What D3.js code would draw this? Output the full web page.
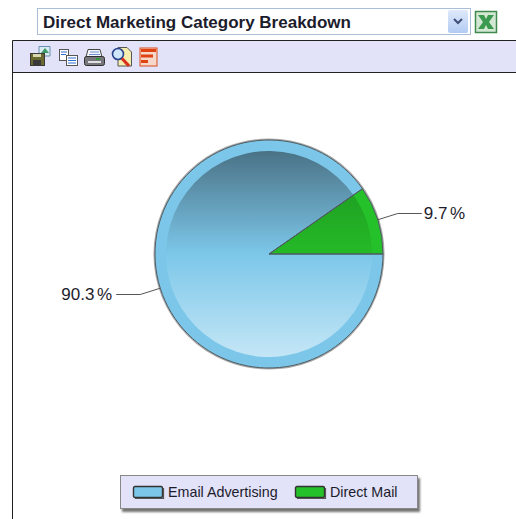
<!DOCTYPE html>
<html lang="en">
<head>
<meta charset="UTF-8">
<title>Direct Marketing Category Breakdown</title>
<style>
  html, body { margin: 0; padding: 0; background: #fff; }
  svg { display: block; }
  text { font-family: "Liberation Sans", Arial, sans-serif; fill: #1c1c2c; }
</style>
</head>
<body>
<svg id="chart" width="516" height="519"></svg>
<script src="https://cdnjs.cloudflare.com/ajax/libs/d3/7.2.0/d3.min.js"></script>
<script>
var title = 'Direct Marketing Category Breakdown';
var categories = ['Email Advertising', 'Direct Mail'];
var shares = [90.3, 9.7];
var shareLabels = ['90.3 %', '9.7 %'];
var ringColors = ['#7cc7e9', '#25c12b'];

var svg = d3.select('#chart');
var defs = svg.append('defs');

var cx = 269, cy = 254, radius = 114, innerRadius = 103;

// gradients for the inner "glass" part of the pie
function gradient(id, stops) {
    var g = defs.append('linearGradient')
        .attr('id', id)
        .attr('gradientUnits', 'userSpaceOnUse')
        .attr('x1', 0).attr('x2', 0)
        .attr('y1', -innerRadius).attr('y2', innerRadius);
    stops.forEach(function (s) {
        g.append('stop').attr('offset', s[0]).attr('stop-color', s[1]);
    });
}
gradient('glass0', [[0, '#4a7286'], [0.5, '#7cc7e9'], [1, '#c4e6f6']]);
gradient('glass1', [[0, '#1c9020'], [0.5, '#25ba27'], [1, '#25c12b']]);

var shadow = defs.append('filter').attr('id', 'legendShadow')
    .attr('x', '-5%').attr('y', '-20%').attr('width', '112%').attr('height', '150%');
shadow.append('feDropShadow')
    .attr('dx', 2).attr('dy', 3).attr('stdDeviation', 1)
    .attr('flood-color', '#000').attr('flood-opacity', 0.55);

// ---------- dropdown at the top
svg.append('rect').attr('x', 37.5).attr('y', 8.5).attr('width', 433).attr('height', 26)
    .attr('fill', '#fff').attr('stroke', '#a9bfd8');
svg.append('text').attr('x', 43).attr('y', 28)
    .attr('font-size', 17).attr('font-weight', 'bold').text(title);

var btn = defs.append('linearGradient').attr('id', 'btn').attr('x1', 0).attr('x2', 0).attr('y1', 0).attr('y2', 1);
btn.append('stop').attr('offset', 0).attr('stop-color', '#dfe9fb');
btn.append('stop').attr('offset', 1).attr('stop-color', '#b3cbf3');
svg.append('rect').attr('x', 448).attr('y', 10).attr('width', 20).attr('height', 23).attr('rx', 2)
    .attr('fill', 'url(#btn)');
svg.append('path').attr('d', 'M454 19 L458 23 L462 19').attr('fill', 'none')
    .attr('stroke', '#3d4f74').attr('stroke-width', 2);

// excel icon
svg.append('rect').attr('x', 475.5).attr('y', 11.5).attr('width', 21).attr('height', 21)
    .attr('fill', '#d3e8d3').attr('stroke', '#3f8a4c').attr('stroke-width', 1.5);
svg.append('path').attr('d', 'M478 15 H484 L486 19 L488 15 H494 L489 22 L494 29 H488 L486 25 L484 29 H478 L483 22 Z')
    .attr('fill', '#3a9a50');

// ---------- toolbar and frame
svg.append('rect').attr('x', 12).attr('y', 40).attr('width', 504).attr('height', 32).attr('fill', '#e2e2f8');
svg.append('path').attr('d', 'M516 40.5 H12.5 V519 M12 72.5 H516').attr('fill', 'none')
    .attr('stroke', '#222').attr('stroke-width', 1);

var icons = svg.append('g');
// save
icons.append('path').attr('d', 'M39 46.5 H50 V56 H39 Z').attr('fill', '#d6ecf0').attr('stroke', '#6a8fb0');
icons.append('path').attr('d', 'M41 53 L45 48 L49 53 Z').attr('fill', '#3f9a6a');
icons.append('rect').attr('x', 30.5).attr('y', 53.5).attr('width', 14).attr('height', 12).attr('fill', '#6a6a30').attr('stroke', '#3a3a3a');
icons.append('rect').attr('x', 33).attr('y', 60).attr('width', 8).attr('height', 6).attr('fill', '#3a3a3a');
icons.append('rect').attr('x', 33).attr('y', 54).attr('width', 8).attr('height', 3).attr('fill', '#d8d8b0');
// copy
icons.append('rect').attr('x', 59.5).attr('y', 49.5).attr('width', 9).attr('height', 11).attr('fill', '#fff').attr('stroke', '#555');
icons.append('rect').attr('x', 66.5).attr('y', 55.5).attr('width', 11).attr('height', 10).attr('fill', '#fff').attr('stroke', '#555');
icons.append('path').attr('d', 'M68 58 H76 M68 60.5 H76 M68 63 H76 M61 52 H67 M61 54.5 H66').attr('stroke', '#2f6fd0').attr('stroke-width', 1.2);
// print
icons.append('path').attr('d', 'M88 49.5 H100 L102 57 H86 Z').attr('fill', '#f4f6fb').attr('stroke', '#444');
icons.append('path').attr('d', 'M90 52 H99 M89 54.5 H100').attr('stroke', '#6f8fd0');
icons.append('rect').attr('x', 84.5).attr('y', 56.5).attr('width', 20).attr('height', 9).attr('rx', 2).attr('fill', '#77777b').attr('stroke', '#2f2f2f');
icons.append('rect').attr('x', 88).attr('y', 61).attr('width', 13).attr('height', 2).attr('fill', '#e0e0e0');
icons.append('rect').attr('x', 96).attr('y', 58).attr('width', 4).attr('height', 2).attr('fill', '#2f9a3a');
// preview
icons.append('path').attr('d', 'M118 47.5 H127 L131.5 52 V66 H118 Z').attr('fill', '#f6eeae').attr('stroke', '#555');
icons.append('circle').attr('cx', 118).attr('cy', 54).attr('r', 5.5).attr('fill', '#cfe6fa').attr('stroke', '#27408a').attr('stroke-width', 1.6);
icons.append('path').attr('d', 'M122 58.5 L129 66').attr('stroke', '#d8301c').attr('stroke-width', 3.2);
// chart
icons.append('rect').attr('x', 140).attr('y', 48).attr('width', 17).attr('height', 18).attr('fill', '#f6d8c8').attr('stroke', '#d84a1c');
icons.append('path').attr('d', 'M141 50.5 H156 M141 56 H153 M141 61.5 H148').attr('stroke', '#e04212').attr('stroke-width', 3.2);

// ---------- pie
var pie = d3.pie().sort(null)
    .startAngle(Math.PI / 2)
    .endAngle(Math.PI / 2 + 2 * Math.PI);
var arcs = pie(shares);

var outerArc = d3.arc().innerRadius(0).outerRadius(radius);
var glassArc = d3.arc().innerRadius(0).outerRadius(innerRadius);
var tipArc = d3.arc().innerRadius(radius).outerRadius(radius);
var elbowArc = d3.arc().innerRadius(135).outerRadius(135);

var plot = svg.append('g').attr('transform', 'translate(' + cx + ',' + cy + ')');

plot.append('circle').attr('r', radius + 0.8).attr('fill', 'none')
    .attr('stroke', '#aaa').attr('stroke-width', 1.5);

plot.selectAll('path.ring').data(arcs).enter().append('path')
    .attr('class', 'ring')
    .attr('d', outerArc)
    .attr('fill', function (d, i) { return ringColors[i]; });

plot.selectAll('path.glass').data(arcs).enter().append('path')
    .attr('class', 'glass')
    .attr('d', glassArc)
    .attr('fill', function (d, i) { return 'url(#glass' + i + ')'; });

plot.selectAll('path.edge').data(arcs).enter().append('path')
    .attr('class', 'edge')
    .attr('d', outerArc)
    .attr('fill', 'none')
    .attr('stroke', '#4d5a60')
    .attr('stroke-width', 1);

// leader lines and percentage labels
plot.selectAll('path.leader').data(arcs).enter().append('path')
    .attr('class', 'leader')
    .attr('fill', 'none')
    .attr('stroke', '#555')
    .attr('d', function (d) {
        var a = tipArc.centroid(d), b = elbowArc.centroid(d);
        var dir = b[0] > 0 ? 1 : -1;
        return d3.line()([a, b, [b[0] + dir * 24, b[1]]]);
    });

plot.selectAll('text.share').data(arcs).enter().append('text')
    .attr('class', 'share')
    .attr('font-size', 17)
    .attr('word-spacing', -2)
    .attr('dy', 5.5)
    .attr('x', function (d) {
        var b = elbowArc.centroid(d);
        return b[0] > 0 ? b[0] + 26 : b[0] - 28;
    })
    .attr('y', function (d) { return elbowArc.centroid(d)[1]; })
    .attr('text-anchor', function (d) { return elbowArc.centroid(d)[0] > 0 ? 'start' : 'end'; })
    .text(function (d, i) { return shareLabels[i]; });

// ---------- legend
svg.append('rect').attr('x', 120.5).attr('y', 475.5).attr('width', 297).attr('height', 33)
    .attr('fill', '#e2e2f8').attr('stroke', '#888').attr('filter', 'url(#legendShadow)');

var legendX = d3.scaleOrdinal().domain(categories).range([133, 295]);
var legend = svg.selectAll('g.key').data(categories).enter().append('g')
    .attr('class', 'key')
    .attr('transform', function (d) { return 'translate(' + legendX(d) + ',486)'; });
legend.append('rect').attr('x', 0.5).attr('y', 0.5).attr('width', 29).attr('height', 11).attr('rx', 1.5)
    .attr('fill', function (d, i) { return ringColors[i]; })
    .attr('stroke', '#333')
    .attr('stroke-width', 1.4);
legend.append('path').attr('d', 'M2 12.5 H30.5 V2').attr('fill', 'none').attr('stroke', '#555').attr('stroke-width', 1.2);
legend.append('text').attr('x', 35).attr('y', 10.5).attr('font-size', 14.3).text(function (d) { return d; });
</script>
</body>
</html>
